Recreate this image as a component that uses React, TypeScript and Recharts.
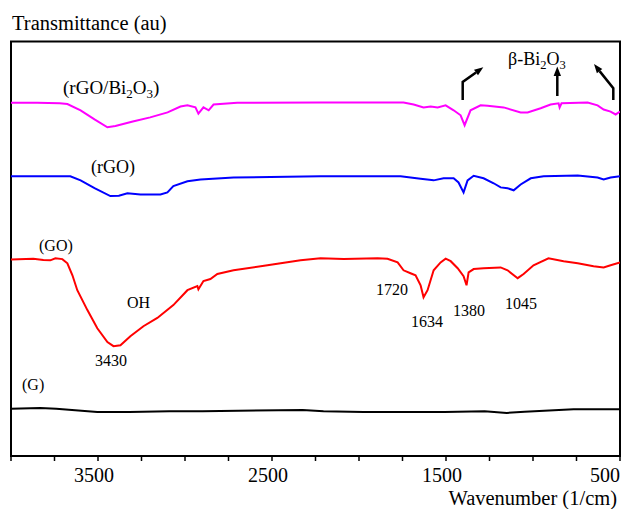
import React from "react";
import { LineChart, Line, XAxis, YAxis, ReferenceArea } from "recharts";

// Wavenumber (1/cm) and transmittance (arbitrary units, 0-100 scale)
const rgoBiWn = [4000, 3850, 3720, 3676, 3600, 3520, 3446, 3400, 3300, 3200, 3100, 3026, 2986, 2940, 2923, 2894, 2864, 2836, 2700, 2221, 1744, 1686, 1629, 1588, 1548, 1502, 1456, 1416, 1393, 1359, 1301, 1261, 1169, 1071, 1031, 956, 899, 853, 847, 836, 686, 629, 594, 554, 525, 500];
const rgoBiT = [85.2, 85.2, 85.1, 84.9, 83.4, 81.2, 79.3, 79.6, 80.7, 81.7, 82.9, 84.3, 84.6, 84.1, 82.6, 84.1, 83.4, 84.8, 85.2, 85.3, 85.3, 84.8, 84.1, 84.3, 84.1, 84.6, 83.4, 82.2, 79.8, 83.4, 84.6, 84.5, 84.1, 82.9, 82.9, 83.9, 84.8, 85.1, 84.1, 85.1, 85.3, 84.6, 83.6, 83.1, 82.4, 83.1];

const rgoWn = [4000, 3800, 3659, 3600, 3520, 3429, 3380, 3331, 3256, 3141, 3101, 3067, 2986, 2911, 2721, 2221, 1761, 1646, 1571, 1514, 1456, 1428, 1399, 1376, 1341, 1284, 1226, 1186, 1146, 1111, 1071, 1013, 939, 743, 629, 594, 554, 500];
const rgoT = [67.5, 67.5, 67.5, 66.5, 64.6, 62.7, 62.8, 63.4, 63.1, 63.1, 63.6, 65.1, 66.3, 66.7, 67.2, 67.5, 67.5, 66.9, 66.5, 67.0, 67.0, 66.0, 63.6, 66.5, 67.6, 67.0, 65.8, 64.8, 64.6, 64.1, 65.5, 67.0, 67.5, 67.7, 67.2, 66.7, 67.2, 67.5];

const goWn = [4000, 3872, 3814, 3774, 3745, 3705, 3676, 3647, 3619, 3561, 3504, 3446, 3411, 3371, 3314, 3239, 3159, 3067, 2986, 2929, 2923, 2894, 2854, 2814, 2721, 2526, 2336, 2221, 2088, 1893, 1836, 1778, 1744, 1704, 1675, 1646, 1629, 1606, 1571, 1531, 1502, 1473, 1433, 1399, 1382, 1370, 1341, 1284, 1186, 1146, 1088, 1054, 997, 911, 824, 743, 652, 594, 554, 500];
const goT = [47.4, 47.6, 47.3, 47.2, 47.7, 47.5, 46.5, 43.6, 40.0, 35.2, 30.8, 27.5, 26.5, 26.7, 28.9, 31.3, 33.3, 36.4, 40.0, 41.0, 40.2, 42.2, 42.7, 43.9, 44.8, 46.0, 47.2, 47.7, 47.5, 47.7, 47.6, 46.7, 44.8, 44.1, 43.6, 41.2, 38.3, 40.0, 44.8, 46.7, 47.6, 47.0, 45.3, 43.4, 41.2, 44.3, 45.1, 45.3, 45.5, 44.8, 42.9, 43.9, 46.0, 47.7, 47.0, 46.5, 45.8, 45.5, 46.0, 46.7];

const gWn = [4000, 3832, 3740, 3504, 3320, 3090, 2900, 2324, 2204, 1974, 1508, 1278, 1151, 1048, 767, 500];
const gT = [11.4, 11.6, 11.4, 10.6, 10.6, 10.8, 10.8, 11.1, 10.8, 10.6, 10.6, 10.8, 10.4, 10.7, 11.3, 11.3];

const xTicks = [4000, 3750, 3500, 3250, 3000, 2750, 2500, 2250, 2000, 1750, 1500, 1250, 1000, 750, 500];
const xTickLabels = [3500, 2500, 1500, 500];

const toRows = (wn: number[], t: number[]) => wn.map((w, i) => ({ wn: w, t: t[i] }));

const rgoBiData = toRows(rgoBiWn, rgoBiT);
const rgoData = toRows(rgoWn, rgoT);
const goData = toRows(goWn, goT);
const gData = toRows(gWn, gT);

const FONT = "'Liberation Serif', 'Times New Roman', serif";

const BottomTick = (props: any) => {
  const { x, y, payload } = props;
  const v = payload.value;
  if (!xTickLabels.includes(v)) return null;
  const isLast = v === 500;
  return (
    <text
      x={isLast ? x : x - 4}
      y={y + 19}
      textAnchor={isLast ? "end" : "middle"}
      fontFamily={FONT}
      fontSize={20}
      fill="#000"
    >
      {v}
    </text>
  );
};

const txt = { fontFamily: FONT, fill: "#000" } as const;

export default function App() {
  return (
    <div style={{ position: "absolute", left: 0, top: 0, width: 631, height: 509, background: "#fff" }}>
      <LineChart
        width={631}
        height={509}
        margin={{ top: 41.5, right: 11, bottom: 23, left: 11 }}
      >
        <XAxis
          dataKey="wn"
          type="number"
          domain={[500, 4000]}
          reversed
          allowDataOverflow
          ticks={xTicks}
          interval={0}
          tickSize={5}
          height={30}
          tick={<BottomTick />}
          tickLine={{ stroke: "#000", strokeWidth: 1.5 }}
          axisLine={{ stroke: "#000", strokeWidth: 2 }}
        />
        <YAxis type="number" domain={[0, 100]} width={0} hide />
        <ReferenceArea
          x1={4000}
          x2={500}
          y1={0}
          y2={100}
          fill="none"
          fillOpacity={0}
          stroke="#000"
          strokeWidth={2}
          ifOverflow="visible"
        />
        <Line data={gData} dataKey="t" type="linear" stroke="#000000" strokeWidth={2} dot={false} isAnimationActive={false} />
        <Line data={goData} dataKey="t" type="linear" stroke="#FF0000" strokeWidth={2} dot={false} isAnimationActive={false} />
        <Line data={rgoData} dataKey="t" type="linear" stroke="#0000FF" strokeWidth={2} dot={false} isAnimationActive={false} />
        <Line data={rgoBiData} dataKey="t" type="linear" stroke="#FF00FF" strokeWidth={2} dot={false} isAnimationActive={false} />
      </LineChart>
      <svg
        width={631}
        height={509}
        style={{ position: "absolute", left: 0, top: 0, pointerEvents: "none" }}
      >
        <text {...txt} x={12} y={30} fontSize={20.5}>Transmittance (au)</text>
        <text {...txt} x={617} y={505} fontSize={20.5} textAnchor="end">Wavenumber (1/cm)</text>

        <text {...txt} x={63} y={94} fontSize={19}>
          (rGO/Bi<tspan fontSize={13} dy={4}>2</tspan><tspan dy={-4}>O</tspan><tspan fontSize={13} dy={4}>3</tspan><tspan dy={-4}>)</tspan>
        </text>
        <text {...txt} x={91} y={172.5} fontSize={18}>(rGO)</text>
        <text {...txt} x={39} y={251} fontSize={16}>(GO)</text>
        <text {...txt} x={127} y={307.5} fontSize={16}>OH</text>
        <text {...txt} x={111} y={366} fontSize={16} textAnchor="middle">3430</text>
        <text {...txt} x={22} y={389.5} fontSize={16}>(G)</text>
        <text {...txt} x={392} y={295} fontSize={16} textAnchor="middle">1720</text>
        <text {...txt} x={427} y={327} fontSize={16} textAnchor="middle">1634</text>
        <text {...txt} x={469} y={316} fontSize={16} textAnchor="middle">1380</text>
        <text {...txt} x={521} y={309} fontSize={16} textAnchor="middle">1045</text>

        <text {...txt} x={508} y={65} fontSize={18}>
          β-Bi<tspan fontSize={12.5} dy={4}>2</tspan><tspan dy={-4}>O</tspan><tspan fontSize={12.5} dy={4}>3</tspan>
        </text>

        <polyline points="462.7,100 462.7,82 476,72.5" fill="none" stroke="#000" strokeWidth={2.5} />
        <polygon points="483.3,67.3 478,75.3 474,69.7" fill="#000" />
        <polyline points="557.3,96 557.3,75" fill="none" stroke="#000" strokeWidth={2.5} />
        <polygon points="557.3,66.5 553.6,76 561,76" fill="#000" />
        <polyline points="613.3,100 613.3,88.3 599.6,71.1" fill="none" stroke="#000" strokeWidth={2.5} />
        <polygon points="594,64 602.3,68.9 596.9,73.3" fill="#000" />
      </svg>
    </div>
  );
}
